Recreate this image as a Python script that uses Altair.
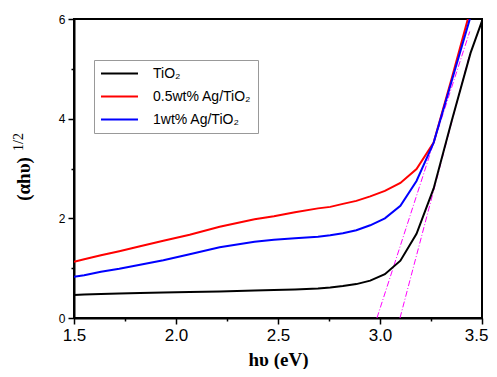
import altair as alt
import pandas as pd

# photon energy (eV)
hv = [1.5, 1.55, 1.632, 1.722, 1.824, 1.938, 2.067, 2.214, 2.385, 2.48, 2.583,
      2.696, 2.756, 2.818, 2.884, 2.952, 3.024, 3.1, 3.179, 3.263, 3.351, 3.444, 3.543]
tio2 = [0.46, 0.47, 0.48, 0.49, 0.50, 0.51, 0.52, 0.53, 0.55, 0.56, 0.57,
        0.59, 0.61, 0.64, 0.68, 0.75, 0.88, 1.15, 1.69, 2.6, 3.95, 5.32, 6.45]
ag05 = [1.13, 1.18, 1.26, 1.34, 1.44, 1.55, 1.67, 1.83, 1.98, 2.04, 2.12,
        2.20, 2.23, 2.29, 2.35, 2.44, 2.55, 2.71, 2.99, 3.52, 4.8, 6.2, 7.6]
ag1 = [0.83, 0.86, 0.93, 0.99, 1.07, 1.16, 1.28, 1.42, 1.53, 1.57, 1.60,
       1.63, 1.66, 1.70, 1.76, 1.86, 2.0, 2.25, 2.75, 3.52, 4.75, 6.05, 7.4]
series_names = ["TiO\u2082", "0.5wt% Ag/TiO\u2082", "1wt% Ag/TiO\u2082"]
series_colors = ["#000000", "#ff0000", "#0000ff"]

# tangent (band-gap extrapolation) lines
tan_id = ["a", "a", "b", "b"]
tan_x = [2.985, 3.44, 3.098, 3.44]
tan_y = [0.0, 5.75, 0.0, 5.3]

x_ticks = [1.5, 1.75, 2.0, 2.25, 2.5, 2.75, 3.0, 3.25, 3.5]
y_ticks = [0, 1, 2, 3, 4, 5, 6]
y_title_main = ["(\u03b1h\u03c5)"]
y_title_sup = ["1/2"]
x_title = "h\u03c5 (eV)"

rows = []
for name, vals in zip(series_names, [tio2, ag05, ag1]):
    for x, y in zip(hv, vals):
        rows.append({"hv": x, "val": y, "series": name})
df = pd.DataFrame(rows)
tan_df = pd.DataFrame({"id": tan_id, "hv": tan_x, "val": tan_y})

xscale = alt.Scale(domain=[1.5, 3.5], nice=False, zero=False)
yscale = alt.Scale(domain=[0, 6], nice=False)

xaxis = alt.Axis(
    values=x_ticks,
    labelExpr="datum.value % 0.5 == 0 ? format(datum.value, '.1f') : ''",
    tickSize={"condition": {"test": "datum.value % 0.5 != 0", "value": 3}, "value": 6},
    labelAlign={"condition": {"test": "datum.value >= 3.5", "value": "right"}, "value": "center"},
    labelOffset={"condition": {"test": "datum.value >= 3.5", "value": 6}, "value": 0},
    labelFontSize=17, labelFont="Liberation Sans", labelColor="black",
    labelPadding=3, labelFlush=False, labelOverlap=False,
    title=x_title, titleFont="Liberation Serif",
    titleFontSize=19, titleFontWeight="bold", titleColor="black",
    titlePadding=7, grid=False,
)
yaxis = alt.Axis(
    values=y_ticks,
    labelExpr="datum.value % 2 == 0 ? format(datum.value, 'd') : ''",
    tickSize={"condition": {"test": "datum.value % 2 != 0", "value": 3}, "value": 6},
    labelFontSize=12, labelFont="Liberation Sans", labelColor="black",
    labelPadding=3, labelFlush=False, title=None, grid=False,
)

lines = alt.Chart(df).mark_line(strokeWidth=2, clip=True).encode(
    x=alt.X("hv:Q", scale=xscale, axis=xaxis),
    y=alt.Y("val:Q", scale=yscale, axis=yaxis),
    color=alt.Color(
        "series:N",
        scale=alt.Scale(domain=series_names, range=series_colors),
        sort=series_names,
        legend=alt.Legend(
            title=None, orient="none", legendX=20, legendY=41,
            symbolType="M-3,0H3", symbolSize=152, symbolStrokeWidth=2,
            symbolOffset=12,
            labelFont="Liberation Sans", labelFontSize=14, labelColor="black",
            labelExpr="datum.label + '\u00a0\u00a0\u00a0\u00a0\u00a0\u00a0\u00a0'",
            strokeColor="#999999", fillColor="white", padding=6,
            labelOffset=26, rowPadding=8,
        ),
    ),
    detail="series:N",
)

tangents = alt.Chart(tan_df).mark_line(
    color="#ff00ff", strokeWidth=1, strokeDash=[6, 2, 1, 2], clip=True
).encode(
    x=alt.X("hv:Q", scale=xscale),
    y=alt.Y("val:Q", scale=yscale),
    detail="id:N",
)

ytitle = alt.Chart(pd.DataFrame({"t": y_title_main})).mark_text(
    angle=270, font="Liberation Serif", fontSize=19, fontWeight="bold",
    align="center", baseline="middle", color="black",
).encode(x=alt.value(-50), y=alt.value(160), text="t:N")

ysup = alt.Chart(pd.DataFrame({"t": y_title_sup})).mark_text(
    angle=270, font="Liberation Serif", fontSize=14,
    align="center", baseline="middle", color="black",
).encode(x=alt.value(-55), y=alt.value(123), text="t:N")

chart = alt.layer(tangents, lines, ytitle, ysup).properties(
    width=408, height=299,
    autosize=alt.AutoSizeParams(type="none"),
    padding={"left": 66, "top": 11, "right": 7, "bottom": 51},
).configure_view(stroke="black", strokeWidth=2).configure_axis(
    domainColor="black", domainWidth=2, tickColor="black", tickWidth=1.5,
)

chart.save("out.html", embed_options={"renderer": "svg", "actions": False})
